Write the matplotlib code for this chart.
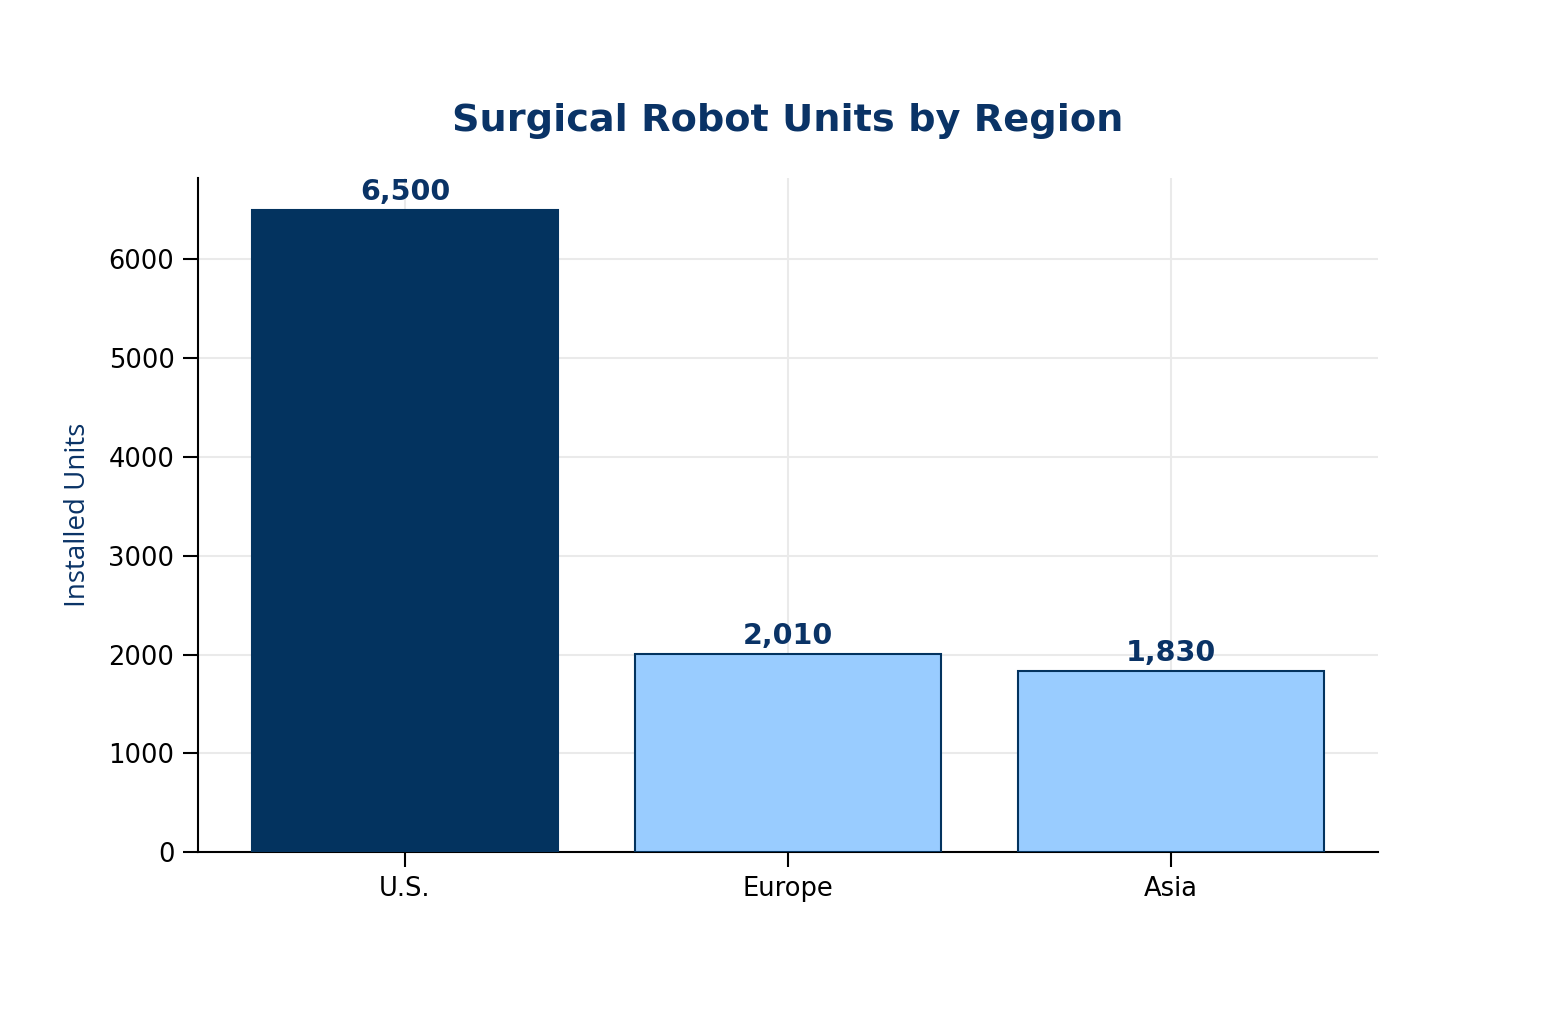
import matplotlib
matplotlib.use("Agg")
import matplotlib.pyplot as plt

regions = ["U.S.", "Europe", "Asia"]
units = [6500, 2010, 1830]
bar_colors = ["#03335F", "#99CCFF", "#99CCFF"]

dark = "#0A3366"

fig = plt.figure(figsize=(15.62, 10.11), dpi=100)
ax = fig.add_axes([0.1268, 0.157, 0.7554, 0.667])

bars = ax.bar(regions, units, width=0.8, color=bar_colors,
              edgecolor="#03335F", linewidth=1.5, zorder=3)

for b, v in zip(bars, units):
    ax.annotate(f"{v:,}", (b.get_x() + b.get_width() / 2, v),
                xytext=(0, 3), textcoords="offset points",
                ha="center", va="bottom", fontsize=20.5, fontweight="bold",
                color=dark)

ax.set_ylim(0, 6825)
ax.grid(True, color="#EAEAEA", linewidth=1.5, zorder=0)
ax.set_axisbelow(True)
for s in ["top", "right"]:
    ax.spines[s].set_visible(False)
for s in ["left", "bottom"]:
    ax.spines[s].set_linewidth(1.5)

ax.tick_params(axis="both", labelsize=18.5, length=11, width=1.5, pad=6)
ax.set_ylabel("Installed Units", fontsize=20, color=dark, family="Open Sans",
              labelpad=11.5)
ax.set_title("Surgical Robot Units by Region", fontsize=27.5, fontweight="bold",
             color=dark, pad=34)

fig.savefig("out.png", dpi=100)
